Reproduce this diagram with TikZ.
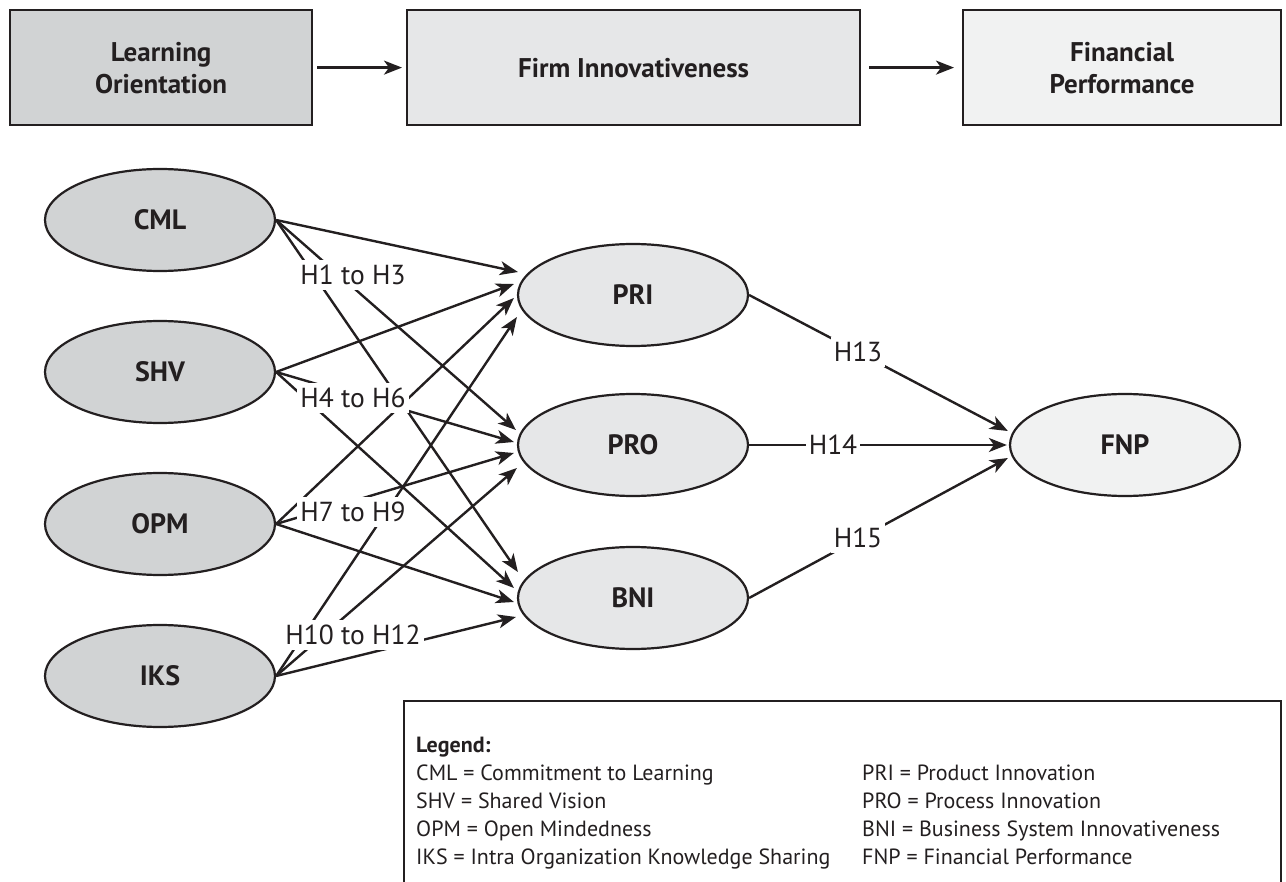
\documentclass[tikz,border=0pt]{standalone}
\usepackage{fontspec}
\setmainfont{PT Sans}
\usetikzlibrary{shapes.geometric,arrows.meta,calc}
\definecolor{ink}{HTML}{231F20}
\definecolor{gA}{HTML}{D1D3D4}
\definecolor{gB}{HTML}{E6E7E8}
\definecolor{gC}{HTML}{F1F2F2}
\begin{document}
\begin{tikzpicture}[x=1pt,y=-1pt,
  topbox/.style={draw=ink,line width=2.2pt,minimum height=115pt,align=center,
    font=\bfseries\fontsize{27}{32}\selectfont,text=ink,anchor=north west,inner sep=0pt},
  ell/.style={ellipse,draw=ink,line width=2.2pt,minimum width=230pt,minimum height=102pt,
    inner sep=0pt,font=\bfseries\fontsize{28}{32}\selectfont,text=ink},
  arr/.style={draw=ink,line width=2.4pt,-{Stealth[length=18pt,width=14pt,inset=5pt]}},
  hl/.style={fill=white,inner xsep=3pt,inner ysep=5pt,font=\fontsize{27.5}{32}\selectfont,text=ink},
  leg/.style={anchor=base west,inner sep=0pt,font=\fontsize{22}{26}\selectfont,text=ink}]
\useasboundingbox (0,0) rectangle (1286,882);

% top row
\node[topbox,minimum width=302pt,fill=gA] (lo) at (9,9) {Learning\\Orientation};
\node[topbox,minimum width=453pt,fill=gB] (fi) at (406,9) {Firm Innovativeness};
\node[topbox,minimum width=318pt,fill=gC] (fp) at (962,9) {Financial\\Performance};
\draw[arr,shorten <=4pt,shorten >=4pt] (lo.east) -- (fi.west);
\draw[arr,shorten <=8pt,shorten >=8pt] (fi.east) -- (fp.west);

% ellipses
\node[ell,fill=gA] (cml) at (160,220) {CML};
\node[ell,fill=gA] (shv) at (160,372) {SHV};
\node[ell,fill=gA] (opm) at (160,524) {OPM};
\node[ell,fill=gA] (iks) at (160,676) {IKS};
\node[ell,fill=gB] (pri) at (633,295) {PRI};
\node[ell,fill=gB] (pro) at (633,445) {PRO};
\node[ell,fill=gB] (bni) at (633,598) {BNI};
\node[ell,fill=gC] (fnp) at (1125,445) {FNP};

% left to middle
\draw[arr] (cml.east) -- ($(pri.west)+(1,-23)$);
\draw[arr] (shv.east) -- ($(pri.west)+(-3,-11)$);
\draw[arr] (opm.east) -- ($(pri.west)+(-3,3)$);
\draw[arr] (iks.east) -- ($(pri.west)+(0,22)$);
\draw[arr] (cml.east) -- ($(pro.west)+(-1,-15)$);
\draw[arr] (shv.east) -- ($(pro.west)+(-3,-3)$);
\draw[arr] (opm.east) -- ($(pro.west)+(-3,8)$);
\draw[arr] (iks.east) -- ($(pro.west)+(0,23)$);
\draw[arr] (cml.east) -- ($(bni.west)+(1,-26)$);
\draw[arr] (shv.east) -- ($(bni.west)+(-3,-10)$);
\draw[arr] (opm.east) -- ($(bni.west)+(-3,4)$);
\draw[arr] (iks.east) -- ($(bni.west)+(-1,19)$);

% middle to FNP
\draw[arr] (pri.east) -- ($(fnp.west)+(-1,-14)$);
\draw[arr] (pro.east) -- ($(fnp.west)+(-2,0)$);
\draw[arr] (bni.east) -- ($(fnp.west)+(-1,13)$);

% hypothesis labels
\node[hl] (h1) at (353,275) {H1 to H3};
\node[hl] (h4) at (353,398) {H4 to H6};
\node[hl] (h7) at (353,512) {H7 to H9};
\node[hl] (h10) at (353,635) {H10 to H12};
\node[hl] (h13) at (858,352) {H13};
\node[hl] (h14) at (833,445) {H14};
\node[hl] (h15) at (858,538) {H15};

% legend
\draw[draw=ink,line width=2.2pt] (404,890) -- (404,701) -- (1281,701) -- (1281,890);
\node[leg,font=\bfseries\fontsize{22}{26}\selectfont] (lg) at (416,752) {Legend:};
\node[leg] (l1) at (416,780) {CML = Commitment to Learning};
\node[leg] (l2) at (416,808) {SHV = Shared Vision};
\node[leg] (l3) at (416,836) {OPM = Open Mindedness};
\node[leg] (l4) at (416,864) {IKS = Intra Organization Knowledge Sharing};
\node[leg] (r1) at (862,780) {PRI = Product Innovation};
\node[leg] (r2) at (862,808) {PRO = Process Innovation};
\node[leg] (r3) at (862,836) {BNI = Business System Innovativeness};
\node[leg] (r4) at (862,864) {FNP = Financial Performance};
\end{tikzpicture}
\end{document}
